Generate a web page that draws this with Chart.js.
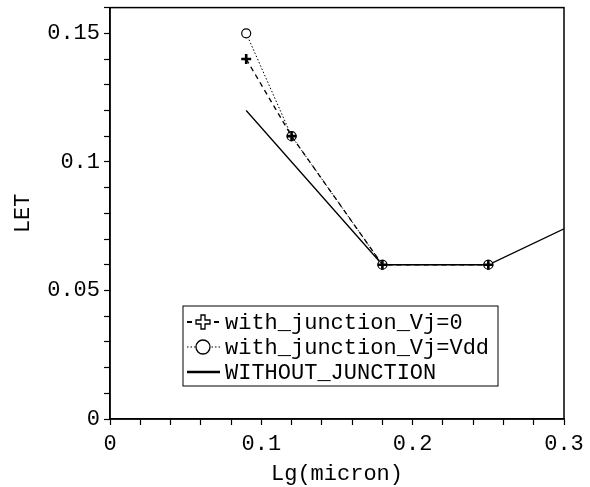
<!DOCTYPE html>
<html lang="en">

<head>
    <meta charset="UTF-8">
    <title>LET vs Lg</title>
    <script src="https://cdn.jsdelivr.net/npm/chart.js"></script>
    <style>
        body { margin: 0; background: #fff; }
        #wrap { width: 590px; height: 487px; }
    </style>
    <script>
        // data
        const lgVj0 = [0.09, 0.12, 0.18, 0.25];
        const letVj0 = [0.14, 0.11, 0.06, 0.06];
        const lgVdd = [0.09, 0.12, 0.18, 0.25];
        const letVdd = [0.15, 0.11, 0.06, 0.06];
        const lgNoJ = [0.09, 0.18, 0.25, 0.3];
        const letNoJ = [0.12, 0.06, 0.06, 0.074];
        const xMajor = [0, 0.1, 0.2, 0.3];
        const yMajor = [0, 0.05, 0.1, 0.15];
        const seriesNames = ['with_junction_Vj=0', 'with_junction_Vj=Vdd', 'WITHOUT_JUNCTION'];

        const FONT = 'Liberation Mono';

        function pts(xs, ys) {
            return xs.map((x, i) => ({ x: x, y: ys[i] }));
        }

        function isMajor(v, list) {
            return list.some(m => Math.abs(m - v) < 1e-6);
        }

        // box round the plot
        const framePlugin = {
            id: 'frame',
            afterDraw(chart) {
                const a = chart.chartArea;
                const ctx = chart.ctx;
                ctx.save();
                ctx.strokeStyle = '#000';
                ctx.lineWidth = 1.5;
                ctx.strokeRect(a.left, a.top, a.right - a.left, a.bottom - a.top);
                ctx.restore();
            }
        };

        // legend box placed inside the plot like the original
        const boxLegend = {
            id: 'boxLegend',
            afterDraw(chart) {
                const ctx = chart.ctx;
                const bx = 183, by = 306, bw = 315, bh = 80;
                ctx.save();
                ctx.fillStyle = '#fff';
                ctx.fillRect(bx, by, bw, bh);
                ctx.strokeStyle = '#000';
                ctx.lineWidth = 1;
                ctx.strokeRect(bx, by, bw, bh);
                ctx.font = '22px "' + FONT + '"';
                ctx.textBaseline = 'middle';
                ctx.fillStyle = '#000';
                chart.data.datasets.forEach((ds, i) => {
                    const y = by + 16 + i * 25;
                    ctx.strokeStyle = '#000';
                    ctx.lineWidth = ds.legendWidth;
                    ctx.setLineDash(ds.borderDash || []);
                    ctx.beginPath();
                    ctx.moveTo(bx + 4, y);
                    ctx.lineTo(bx + 37, y);
                    ctx.stroke();
                    ctx.setLineDash([]);
                    const cx = bx + 20;
                    if (ds.pointStyle === 'cross') {
                        ctx.fillStyle = '#fff';
                        ctx.lineWidth = 1.3;
                        ctx.beginPath();
                        ctx.moveTo(cx - 2, y - 7); ctx.lineTo(cx + 2, y - 7); ctx.lineTo(cx + 2, y - 2);
                        ctx.lineTo(cx + 7, y - 2); ctx.lineTo(cx + 7, y + 2); ctx.lineTo(cx + 2, y + 2);
                        ctx.lineTo(cx + 2, y + 7); ctx.lineTo(cx - 2, y + 7); ctx.lineTo(cx - 2, y + 2);
                        ctx.lineTo(cx - 7, y + 2); ctx.lineTo(cx - 7, y - 2); ctx.lineTo(cx - 2, y - 2);
                        ctx.closePath();
                        ctx.fill();
                        ctx.stroke();
                    } else if (ds.pointStyle === 'circle') {
                        ctx.fillStyle = '#fff';
                        ctx.lineWidth = 1.3;
                        ctx.beginPath();
                        ctx.arc(cx, y, 7, 0, Math.PI * 2);
                        ctx.fill();
                        ctx.stroke();
                    }
                    ctx.fillStyle = '#000';
                    ctx.fillText(ds.label, bx + 42, y + 1);
                });
                ctx.restore();
            }
        };

        document.addEventListener('DOMContentLoaded', () => {
            const ctx = document.getElementById('myChart').getContext('2d');
            new Chart(ctx, {
                type: 'line',
                data: {
                    datasets: [{
                        label: seriesNames[0],
                        data: pts(lgVj0, letVj0),
                        borderColor: '#000',
                        borderWidth: 1.3,
                        legendWidth: 2,
                        borderDash: [5, 4],
                        pointStyle: 'cross',
                        pointRadius: 5,
                        pointBorderWidth: 2.6,
                        pointBorderColor: '#000'
                    }, {
                        label: seriesNames[1],
                        data: pts(lgVdd, letVdd),
                        borderColor: '#000',
                        borderWidth: 1,
                        legendWidth: 1.2,
                        borderDash: [1.5, 2],
                        pointStyle: 'circle',
                        pointRadius: 4.5,
                        pointBorderWidth: 1.2,
                        pointBackgroundColor: '#fff',
                        pointBorderColor: '#000'
                    }, {
                        label: seriesNames[2],
                        data: pts(lgNoJ, letNoJ),
                        borderColor: '#000',
                        borderWidth: 1.3,
                        legendWidth: 2.5,
                        pointRadius: 0
                    }]
                },
                options: {
                    responsive: true,
                    maintainAspectRatio: false,
                    animation: false,
                    layout: { padding: { left: 0, top: 6, right: 26, bottom: 0 } },
                    plugins: {
                        legend: { display: false },
                        tooltip: { enabled: false }
                    },
                    scales: {
                        x: {
                            type: 'linear',
                            min: 0,
                            max: 0.3,
                            afterFit: s => { s.height = 68; s.paddingLeft = 0; s.paddingRight = 0; },
                            border: { color: '#000', width: 1.5 },
                            grid: { drawOnChartArea: false, tickLength: 6, tickColor: '#000', tickWidth: 1.2 },
                            ticks: {
                                stepSize: 0.02,
                                autoSkip: false,
                                maxRotation: 0,
                                padding: 6,
                                color: '#000',
                                font: { family: FONT, size: 22 },
                                callback: v => isMajor(v, xMajor) ? String(Math.round(v * 10) / 10) : ''
                            },
                            title: {
                                display: true,
                                text: 'Lg(micron)',
                                color: '#000',
                                font: { family: FONT, size: 22 },
                                padding: { top: 0, bottom: 0 }
                            }
                        },
                        y: {
                            type: 'linear',
                            min: 0,
                            max: 0.16,
                            afterFit: s => { s.width = 110; s.paddingTop = 0; s.paddingBottom = 0; },
                            border: { color: '#000', width: 1.5 },
                            grid: { drawOnChartArea: false, tickLength: 6, tickColor: '#000', tickWidth: 1.2 },
                            ticks: {
                                stepSize: 0.01,
                                autoSkip: false,
                                padding: 4,
                                color: '#000',
                                font: { family: FONT, size: 22 },
                                callback: v => isMajor(v, yMajor) ? String(Math.round(v * 100) / 100) : ''
                            },
                            title: {
                                display: true,
                                text: 'LET',
                                color: '#000',
                                font: { family: FONT, size: 22 },
                                padding: { top: 10, bottom: 0 }
                            }
                        }
                    }
                },
                plugins: [framePlugin, boxLegend]
            });
        });
    </script>
</head>

<body>
    <div id="wrap"><canvas id="myChart"></canvas></div>
</body>

</html>
